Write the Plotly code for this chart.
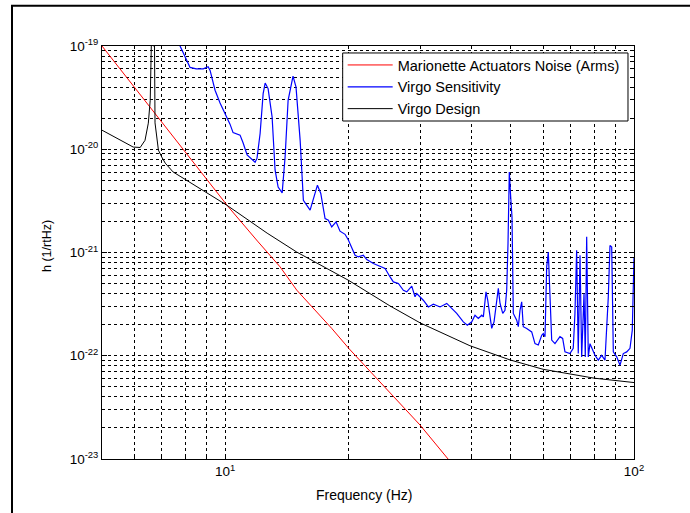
import plotly.graph_objects as go

# ---------------- data ----------------
marionette_f = [5.0, 6.5, 8.0, 10.19, 12.0, 13.63, 14.97, 16.5, 18.23, 20.1, 24.0, 29.98, 35.1, 38.0]
marionette_h = [1.0e-19, 2.67e-20, 9.35e-21, 2.76e-21, 1.29e-21, 7.26e-22, 4.32e-22, 2.83e-22,
                1.84e-22, 1.17e-22, 5.52e-23, 2.13e-23, 1.0e-23, 7.0e-24]

sens_f = [7.6, 7.76, 8.21, 8.5, 8.84, 9.09, 9.19, 9.35, 9.45, 9.72, 10.0, 10.28, 10.46, 10.88, 11.07,
          11.32, 11.84, 11.97, 12.18, 12.39, 12.53, 12.74, 13.03, 13.25, 13.48, 13.79, 14.02, 14.26,
          14.66, 14.91, 15.26, 15.54, 16.14, 16.82, 17.14, 17.56, 17.89, 18.23, 18.68, 19.10, 19.65,
          20.02, 20.79, 21.18, 21.78, 22.21, 23.05, 24.16, 24.62, 25.32, 25.79, 26.53, 27.29, 27.82,
          28.61, 29.14, 29.42, 30.53, 31.41, 32.31, 33.55, 34.84, 35.83, 36.85, 38.25, 39.12, 40.11,
          40.85, 41.62, 42.43, 42.81, 43.46, 43.88, 44.28, 44.88, 45.47, 45.98, 46.58, 47.03, 47.75,
          48.36, 48.83, 49.19, 49.55, 49.94, 50.31, 50.68, 51.66, 52.13, 52.63, 53.13, 53.61, 54.65,
          56.21, 57.26, 58.34, 59.47, 60.00, 60.58, 61.16, 61.72, 62.31, 62.91, 64.08, 65.91, 66.92,
          67.79, 69.72, 71.03, 71.71, 72.40, 73.06, 73.79, 74.48, 75.47, 76.01, 76.61, 77.31, 78.05,
          80.27, 81.78, 83.36, 84.93, 86.53, 87.35, 88.20, 89.00, 90.72, 92.43, 94.15, 95.98, 97.77,
          99.04, 100.0]
sens_h = [1.3e-19, 1.0e-19, 6.2e-20, 6.0e-20, 6.0e-20, 6.3e-20, 5.8e-20, 4.5e-20, 3.73e-20, 2.8e-20,
          2.2e-20, 1.75e-20, 1.45e-20, 1.37e-20, 1.15e-20, 8.8e-21, 7.5e-21, 8.2e-21, 1.42e-20,
          3.46e-20, 4.38e-20, 3.87e-20, 2.06e-20, 6.3e-21, 4.3e-21, 3.78e-21, 8.4e-21, 2.98e-20,
          5.1e-20, 4.0e-20, 1.22e-20, 3.2e-21, 2.57e-21, 4.49e-21, 3.73e-21, 2.13e-21, 2.05e-21,
          1.77e-21, 1.98e-21, 1.61e-21, 1.50e-21, 1.32e-21, 9.4e-22, 9.06e-22, 9.4e-22, 8.55e-22,
          7.82e-22, 7.26e-22, 7.0e-22, 5.8e-22, 5.19e-22, 5.01e-22, 4.31e-22, 4.16e-22, 4.72e-22,
          3.72e-22, 4.01e-22, 3.45e-22, 2.97e-22, 3.16e-22, 2.97e-22, 3.21e-22, 2.87e-22, 2.57e-22,
          2.13e-22, 1.98e-22, 2.13e-22, 2.47e-22, 2.30e-22, 2.47e-22, 2.38e-22, 4.16e-22, 3.45e-22,
          2.57e-22, 1.84e-22, 2.13e-22, 2.97e-22, 4.49e-22, 3.21e-22, 2.57e-22, 2.76e-22, 4.31e-22,
          1.22e-21, 6.03e-21, 3.45e-21, 2.21e-21, 2.57e-22, 2.21e-22, 1.91e-22, 2.76e-22, 3.33e-22,
          1.91e-22, 1.84e-22, 1.70e-22, 1.31e-22, 1.27e-22, 1.58e-22, 1.64e-22, 1.53e-22, 7.26e-22,
          1.01e-21, 3.21e-22, 1.42e-22, 1.31e-22, 1.53e-22, 1.47e-22, 1.09e-22, 1.05e-22, 1.18e-22,
          2.57e-22, 1.05e-21, 1.05e-22, 9.4e-22, 9.75e-23, 4.01e-22, 9.75e-23, 1.42e-21, 9.75e-23,
          1.31e-22, 1.01e-22, 9.06e-23, 1.01e-22, 9.06e-23, 3.72e-22, 1.17e-21, 1.13e-21, 1.09e-22,
          9.75e-23, 8.1e-23, 1.05e-22, 1.09e-22, 1.18e-22, 1.77e-22, 9.06e-22]

design_f = [5.0, 5.54, 5.96, 6.2, 6.37, 6.49, 6.56, 6.6, 6.64, 6.68, 6.72, 6.74, 6.87, 7.0, 7.14,
            7.46, 8.06, 8.69, 10.1, 12.67, 14.97, 20.0, 25.3, 30.0, 39.7, 49.8, 59.9, 79.8, 100.0]
design_h = [1.53e-20, 1.22e-20, 1.05e-20, 1.04e-20, 1.22e-20, 1.79e-20, 2.98e-20, 1.0e-19, 1.0e-18,
            1.0e-19, 1.0e-19, 1.8e-20, 9.8e-21, 8.4e-21, 7.33e-21, 6.03e-21, 5.0e-21, 4.19e-21,
            2.87e-21, 1.54e-21, 1.01e-21, 5.4e-22, 3.04e-22, 2.08e-22, 1.25e-22, 9.1e-23, 7.4e-23,
            6.07e-23, 5.5e-23]

x_major = [10, 100]
x_major_text = ["10<sup>1</sup>", "10<sup>2</sup>"]
x_minor = [5, 6, 7, 8, 9, 20, 30, 40, 50, 60, 70, 80, 90]
y_major = [1e-23, 1e-22, 1e-21, 1e-20, 1e-19]
y_major_text = ["10<sup>-23</sup>", "10<sup>-22</sup>", "10<sup>-21</sup>", "10<sup>-20</sup>", "10<sup>-19</sup>"]
y_minor = [m * 10.0 ** e for e in (-23, -22, -21, -20) for m in range(2, 10)]

# ---------------- figure ----------------
FONT = "Liberation Sans, Arial, Helvetica, sans-serif"
fig = go.Figure()
fig.add_trace(go.Scatter(x=marionette_f, y=marionette_h, mode="lines",
                         name="Marionette Actuators Noise (Arms)",
                         line=dict(color="#ff0000", width=1)))
fig.add_trace(go.Scatter(x=sens_f, y=sens_h, mode="lines", name="Virgo Sensitivity",
                         line=dict(color="#0000ff", width=1.2)))
fig.add_trace(go.Scatter(x=design_f, y=design_h, mode="lines", name="Virgo Design",
                         line=dict(color="#000000", width=1)))

grid = dict(showgrid=True, gridcolor="#000000", gridwidth=1, griddash="3px,3px")
axis_common = dict(showline=True, linecolor="#000000", linewidth=1, mirror="allticks",
                   ticks="inside", ticklen=5, tickcolor="#000000", zeroline=False,
                   tickfont=dict(family=FONT, size=13.5, color="#000000"), **grid)

fig.update_xaxes(type="log", range=[0.69897, 2.0], tickmode="array", tickvals=x_major,
                 ticktext=x_major_text,
                 minor=dict(tickvals=x_minor, ticks="inside", ticklen=3, tickcolor="#000000",
                            showgrid=True, gridcolor="#000000", gridwidth=1, griddash="3px,3px"),
                 **axis_common)
fig.update_yaxes(type="log", range=[-23, -19], tickmode="array", tickvals=y_major,
                 ticktext=y_major_text,
                 minor=dict(tickvals=y_minor, ticks="inside", ticklen=3, tickcolor="#000000",
                            showgrid=True, gridcolor="#000000", gridwidth=1, griddash="3px,3px"),
                 **axis_common)

fig.update_layout(
    width=690, height=513, autosize=False,
    margin=dict(l=102, r=56, t=46, b=54),
    paper_bgcolor="#ffffff", plot_bgcolor="#ffffff",
    font=dict(family=FONT, size=13, color="#000000"),
    showlegend=True,
    legend=dict(x=0.4524, y=0.9927, xanchor="left", yanchor="top",
                bgcolor="rgba(0,0,0,0)", borderwidth=0,
                font=dict(family=FONT, size=14.5, color="#000000"),
                itemwidth=45, tracegroupgap=0),
    annotations=[
        dict(text="Frequency (Hz)", x=0.4924, y=-0.0872, xref="paper", yref="paper",
             xanchor="center", yanchor="middle", showarrow=False,
             font=dict(family=FONT, size=14, color="#000000")),
        dict(text="h (1/rtHz)", x=-0.1034, y=0.5157, xref="paper", yref="paper",
             xanchor="center", yanchor="middle", showarrow=False, textangle=-90,
             font=dict(family=FONT, size=12.5, color="#000000")),
    ],
    shapes=[
        # legend box
        dict(type="rect", xref="paper", yref="paper", x0=0.4524, x1=0.9887,
             y0=0.8184, y1=0.9831, layer="above", fillcolor="#ffffff",
             line=dict(color="#000000", width=1)),
        # outer figure frame (left and top edges visible)
        dict(type="rect", xref="paper", yref="paper", x0=-0.16917, x1=1.2,
             y0=-0.2, y1=1.0976, layer="below", fillcolor="rgba(0,0,0,0)",
             line=dict(color="#000000", width=2)),
    ],
)

fig.write_html("out.html", config={"displayModeBar": False},
               post_script="document.body.style.margin='0px';document.body.style.overflow='hidden';")
